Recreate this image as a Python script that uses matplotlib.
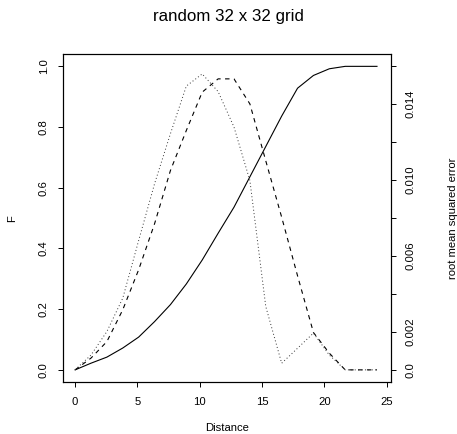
import numpy as np
import matplotlib
matplotlib.use('Agg')
import matplotlib.pyplot as plt

plt.rcParams['font.family'] = ['Liberation Sans', 'DejaVu Sans']

# Distance classes
distance = [0, 1.275, 2.55, 3.825, 5.1, 6.375, 7.65, 8.925, 10.2, 11.475,
            12.75, 14.025, 15.3, 16.575, 17.85, 19.125, 20.4, 21.675, 22.95, 24.225]

# Cumulative distribution F (left axis)
F = [0, 0.022, 0.042, 0.072, 0.108, 0.159, 0.215, 0.283, 0.362, 0.45,
     0.536, 0.636, 0.736, 0.836, 0.928, 0.970, 0.992, 1.0, 1.0, 1.0]

# Root mean squared error (right axis)
rmse_dashed = [0, 0.00062, 0.00149, 0.00317, 0.00528, 0.0077, 0.01051, 0.01262, 0.01464, 0.01534,
               0.01534, 0.01402, 0.01102, 0.00805, 0.00496, 0.00197, 0.00088, 0, 0, 0]
rmse_dotted = [0, 0.00078, 0.00202, 0.00378, 0.00682, 0.00981, 0.01245, 0.01496, 0.0156, 0.01467,
               0.0128, 0.00998, 0.00334, 0.00035, 0.00114, 0.00194, 0.00078, 0, 0, 0]

left_ticks = [0.0, 0.2, 0.4, 0.6, 0.8, 1.0]
left_labels = ['0.0', '0.2', '0.4', '0.6', '0.8', '1.0']
right_ticks = [0.0, 0.002, 0.004, 0.006, 0.008, 0.010, 0.012, 0.014, 0.016]
right_labels = ['0.0', '0.002', '', '0.006', '', '0.010', '', '0.014', '']
x_ticks = [0, 5, 10, 15, 20, 25]

fs = 8.1
fig = plt.figure(figsize=(4.57, 4.34), dpi=100)
ax1 = fig.add_axes([0.1379, 0.1198, 0.7177, 0.7553])
ax1.plot(distance, F, color='black', linewidth=0.8)
ax1.set_xlim(-0.97, 25.35)
ax1.set_ylim(-0.04, 1.04)
ax1.set_xticks(x_ticks)
ax1.set_xticklabels([str(t) for t in x_ticks], fontsize=fs)
ax1.set_yticks(left_ticks)
ax1.set_yticklabels(left_labels, fontsize=fs, rotation=90, va='center')
ax1.tick_params(axis='x', direction='out', length=3.6, width=0.7, pad=7)
ax1.tick_params(axis='y', direction='out', length=3.6, width=0.7, pad=6.5)
ax1.set_xlabel('Distance', fontsize=fs)
ax1.xaxis.set_label_coords(0.5, -0.125)
ax1.set_ylabel('F', fontsize=fs)
ax1.yaxis.set_label_coords(-0.14, 0.5)
for s in ax1.spines.values():
    s.set_linewidth(0.8)

ax2 = ax1.twinx()
ax2.plot(distance, rmse_dashed, color='black', linewidth=0.8, linestyle=(0, (4, 4)))
ax2.plot(distance, rmse_dotted, color='#333333', linewidth=0.7, linestyle=(0, (1, 2.5)))
ax2.set_ylim(-0.04 * 0.016, 1.04 * 0.016)
ax2.set_yticks(right_ticks)
ax2.set_yticklabels(right_labels, fontsize=fs, rotation=90, va='center')
ax2.tick_params(axis='y', direction='out', length=3.6, width=0.7, pad=6.5)
ax2.set_ylabel('root mean squared error', fontsize=fs)
ax2.yaxis.set_label_coords(1.175, 0.5)
for s in ax2.spines.values():
    s.set_linewidth(0.8)

fig.suptitle('random 32 x 32 grid', fontsize=12.2, y=0.961, va='center')

fig.savefig('out.png', dpi=100)
